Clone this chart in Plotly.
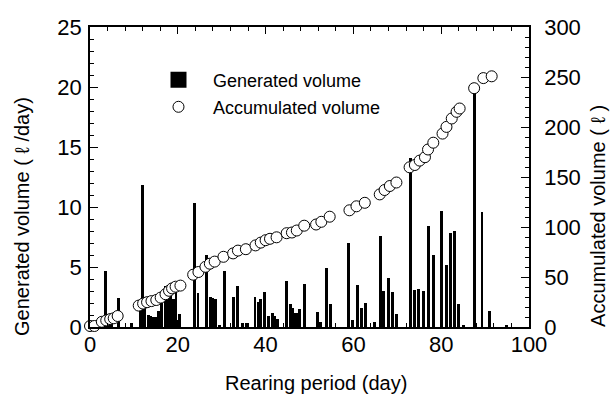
import plotly.graph_objects as go

# Generated volume (l/day) - bars
bar_day = [3.6, 4.4, 4.9, 6.5, 9.4, 11.4, 12.0, 12.5, 13.3, 13.9, 14.5, 15.0, 15.6, 16.3, 17.1, 17.7, 18.3, 19.1, 19.6, 20.3,
           23.8, 24.6, 26.6, 27.5, 28.0, 28.6, 29.5, 30.7, 32.6, 33.6, 34.7, 35.6, 37.6, 38.3, 38.8, 39.7, 40.6, 41.6, 42.1, 42.7,
           44.7, 45.6, 46.1, 46.7, 47.3, 47.8, 48.8, 51.8, 52.6, 53.9, 54.7, 58.9, 59.7, 60.9, 61.8, 62.8, 64.8, 66.1, 66.9, 67.9,
           68.9, 69.9, 73.1, 74.0, 74.9, 75.9, 77.1, 78.2, 80.1, 81.2, 82.1, 83.1, 84.0, 85.0, 87.5, 89.3, 91.0, 94.9]
bar_val = [4.7, 1.0, 0.8, 2.4, 0.3, 1.5, 11.8, 2.5, 1.0, 0.9, 0.8, 0.85, 1.3, 2.0, 3.4, 3.1, 3.2, 2.3, 3.1, 1.1,
           10.3, 2.8, 6.0, 2.5, 2.4, 2.3, 0.2, 4.7, 2.5, 3.4, 0.3, 0.3, 2.5, 2.1, 2.3, 2.9, 0.9, 1.2, 0.9, 0.7,
           3.8, 1.9, 1.6, 1.2, 1.2, 1.5, 3.6, 1.25, 0.4, 4.9, 1.9, 7.0, 0.6, 3.5, 1.6, 2.0, 0.4, 7.6, 3.0, 4.1,
           2.9, 1.05, 14.1, 3.1, 3.15, 3.0, 8.4, 6.0, 9.7, 5.2, 7.8, 8.0, 1.9, 0.2, 19.8, 9.6, 1.3, 0.2]

# Accumulated volume (l) - circles
acc_day = [0, 1, 2.7, 3.7, 4.6, 5.4, 6.3, 11.1, 12.1, 13.0, 14.0, 15.1, 16.1, 17.2, 18.0, 18.7, 19.5, 20.6, 23.5, 24.7,
           26.3, 27.3, 28.4, 30.4, 32.6, 33.7, 35.5, 37.7, 38.9, 40.0, 41.0, 42.5, 44.8, 46.0, 47.1, 48.8, 51.5, 52.7, 54.6,
           59.1, 60.7, 62.6, 66.0, 67.1, 68.3, 69.8, 72.8, 74.0, 75.1, 76.3, 77.0, 78.2, 80.3, 81.2, 82.4, 83.5, 84.2,
           87.5, 89.6, 91.5]
acc_val = [1, 1, 5.2, 6.6, 7.9, 8.7, 11, 21.4, 23.4, 24.8, 25.9, 27, 29.4, 32.8, 36.2, 38.6, 40.3, 41.4, 52.3, 55,
           60.2, 63.3, 65.4, 70.2, 73.6, 76.4, 77.8, 81.6, 84.4, 86.8, 88.2, 89.7, 93.8, 94.5, 96.5, 101.3, 102.5, 105.2, 110.3,
           116.7, 120.7, 124.2, 132.6, 137, 141, 144.5, 159.7, 162, 166.4, 169.8, 177.5, 184.3, 193.4, 200.1, 208.5, 215.2, 218.5,
           238.8, 248.9, 250.7]

FONT = "Liberation Sans"

fig = go.Figure()
fig.add_trace(go.Bar(x=bar_day, y=bar_val, width=0.65, marker=dict(color="black", line=dict(width=0)),
                     showlegend=False, yaxis="y"))
# legend-only entry for the bars
fig.add_trace(go.Scatter(x=[None], y=[None], mode="markers", name="Generated volume",
                         marker=dict(symbol="square", size=16, color="black"), legend="legend"))
fig.add_trace(go.Scatter(x=acc_day, y=acc_val, mode="markers", name="Accumulated volume", yaxis="y2",
                         cliponaxis=False,
                         marker=dict(symbol="circle", size=11, color="white", line=dict(color="black", width=1)),
                         legend="legend2"))

tickfont = dict(family=FONT, size=22, color="black")
fig.update_layout(
    width=616, height=399,
    margin=dict(l=90, r=87, t=27, b=72),
    paper_bgcolor="white", plot_bgcolor="white",
    font=dict(family=FONT, color="black"),
    bargap=0,
    xaxis=dict(range=[0, 100], dtick=20, showgrid=False, zeroline=False, showline=True, linecolor="black",
               linewidth=1.5, mirror="ticks", ticks="inside", ticklen=7, tickwidth=1.2, tickcolor="black",
               minor=dict(dtick=4, ticks="inside", ticklen=4, tickcolor="black", tickwidth=1),
               tickfont=tickfont, ticklabelstandoff=-3),
    yaxis=dict(range=[0, 25], dtick=5, showgrid=False, zeroline=False, showline=True, linecolor="black",
               linewidth=1.5, ticks="inside", ticklen=8, tickwidth=1.2, tickcolor="black",
               minor=dict(dtick=1, ticks="inside", ticklen=4, tickcolor="black", tickwidth=1),
               tickfont=tickfont, ticklabelstandoff=2),
    yaxis2=dict(range=[0, 300], dtick=50, overlaying="y", side="right", showgrid=False, zeroline=False,
                showline=True, linecolor="black", linewidth=1.5, ticks="inside", ticklen=8, tickwidth=1.2,
                tickcolor="black",
                minor=dict(dtick=10, ticks="inside", ticklen=4, tickcolor="black", tickwidth=1),
                tickfont=tickfont, ticklabelstandoff=9),
    legend=dict(x=0.123, y=0.823, xanchor="left", yanchor="middle", bgcolor="rgba(0,0,0,0)",
                font=dict(family=FONT, size=18, color="black"), itemsizing="trace", itemwidth=59),
    legend2=dict(x=0.123, y=0.733, xanchor="left", yanchor="middle", bgcolor="rgba(0,0,0,0)",
                 font=dict(family=FONT, size=18, color="black"), itemsizing="trace", itemwidth=59),
    annotations=[
        dict(text="Rearing period (day)", xref="paper", yref="paper", x=0.515, y=-0.187,
             showarrow=False, font=dict(family=FONT, size=20, color="black"), xanchor="center", yanchor="middle"),
        dict(text="Generated volume ( ℓ /day)", xref="paper", yref="paper", x=-0.155, y=0.37,
             showarrow=False, textangle=-90, font=dict(family=FONT, size=20, color="black"),
             xanchor="center", yanchor="middle"),
        dict(text="Accumulated volume ( ℓ )", xref="paper", yref="paper", x=1.157, y=0.37,
             showarrow=False, textangle=-90, font=dict(family=FONT, size=20, color="black"),
             xanchor="center", yanchor="middle"),
    ],
)

fig.write_html("out.html")
